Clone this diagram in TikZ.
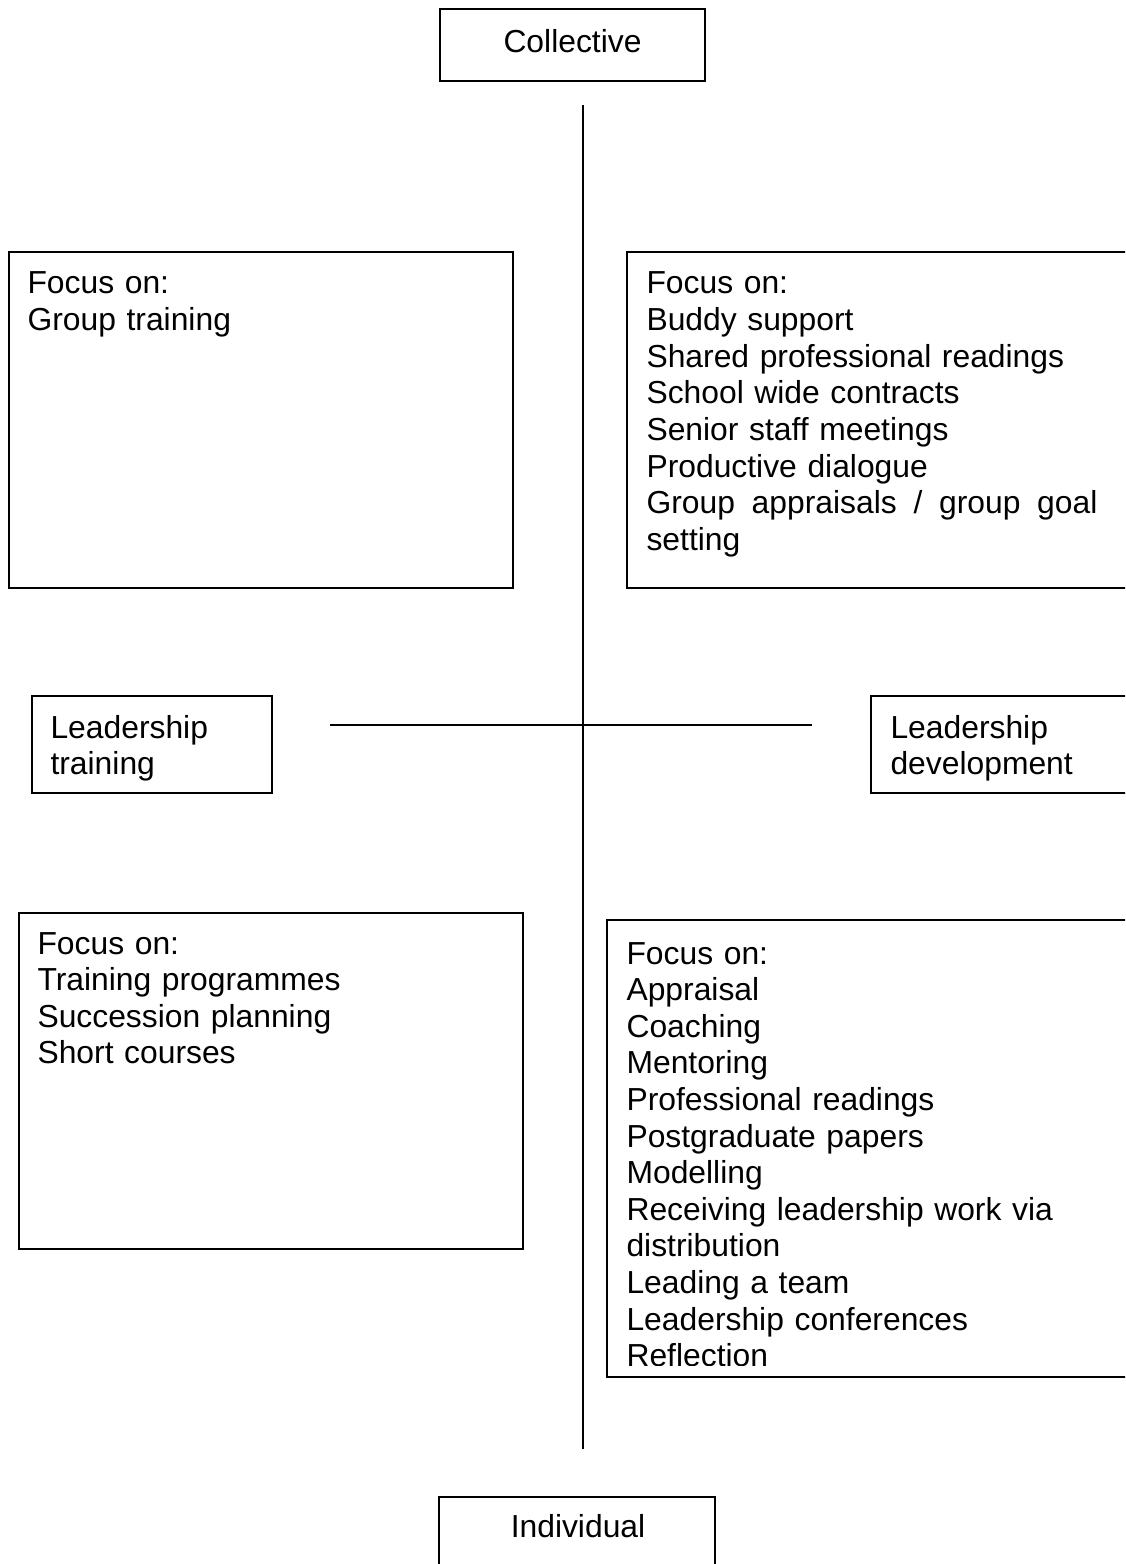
\documentclass[tikz,border=0pt]{standalone}
\usepackage{fontspec}
\setmainfont{Liberation Sans}[Ligatures={NoCommon}]
\usetikzlibrary{fit}
\begin{document}
\begin{tikzpicture}[x=0.377pt,y=-0.377pt,
  boxst/.style={draw=black, line width=0.75pt, inner sep=0pt},
  axis/.style={draw=black, line width=1pt},
  txt/.style={inner sep=0pt, anchor=base west, align=left, text width=#1,
    font=\fontsize{12pt}{13.8pt}\selectfont},
  txt/.default=190pt,
  lbl/.style={inner sep=0pt, anchor=base, font=\fontsize{12pt}{13.8pt}\selectfont}]
\clip (0,0) rectangle (1125,1564);
% boxes
\node[boxst, fit={(440,9) (705,81)}] (coll) {};
\node[boxst, fit={(439,1497) (715,1600)}] (indiv) {};
\node[boxst, fit={(9,252) (513,588)}] (tl) {};
\node[boxst, fit={(627,252) (1140,588)}] (tr) {};
\node[boxst, fit={(32,696) (272,793)}] (lt) {};
\node[boxst, fit={(871,696) (1140,793)}] (ld) {};
\node[boxst, fit={(19,913) (523,1249)}] (bl) {};
\node[boxst, fit={(607,920) (1140,1377)}] (br) {};
% axes
\coordinate (vtop) at (583,105);
\coordinate (vbot) at (583,1449);
\coordinate (hleft) at (330,725);
\coordinate (hright) at (812,725);
\draw[axis] (vtop) -- (vbot);
\draw[axis] (hleft) -- (hright);
% labels
\node[lbl] (colltext) at (572.5,53) {Collective};
\node[lbl] (indivtext) at (578,1537) {Individual};
\node[txt] (lttext) at (50,738) {Leadership\\training};
\node[txt] (ldtext) at (890,738) {Leadership\\development};
\node[txt] (tltext) at (27,294) {Focus on:\\Group training};
\node[txt] (trtext) at (646,294) {Focus on:\\Buddy support\\Shared professional readings\\School wide contracts\\Senior staff meetings\\Productive dialogue\\\makebox[170pt][l]{Group\hfill appraisals\hfill /\hfill group\hfill goal}\\setting};
\node[txt] (bltext) at (37,954) {Focus on:\\Training programmes\\Succession planning\\Short courses};
\begin{scope}
\clip (600,900) rectangle (1125,1365);
\node[txt] (brtext) at (626,964) {Focus on:\\Appraisal\\Coaching\\Mentoring\\Professional readings\\Postgraduate papers\\Modelling\\Receiving leadership work via\\distribution\\Leading a team\\Leadership conferences\\Reflection};
\end{scope}
\end{tikzpicture}
\end{document}
